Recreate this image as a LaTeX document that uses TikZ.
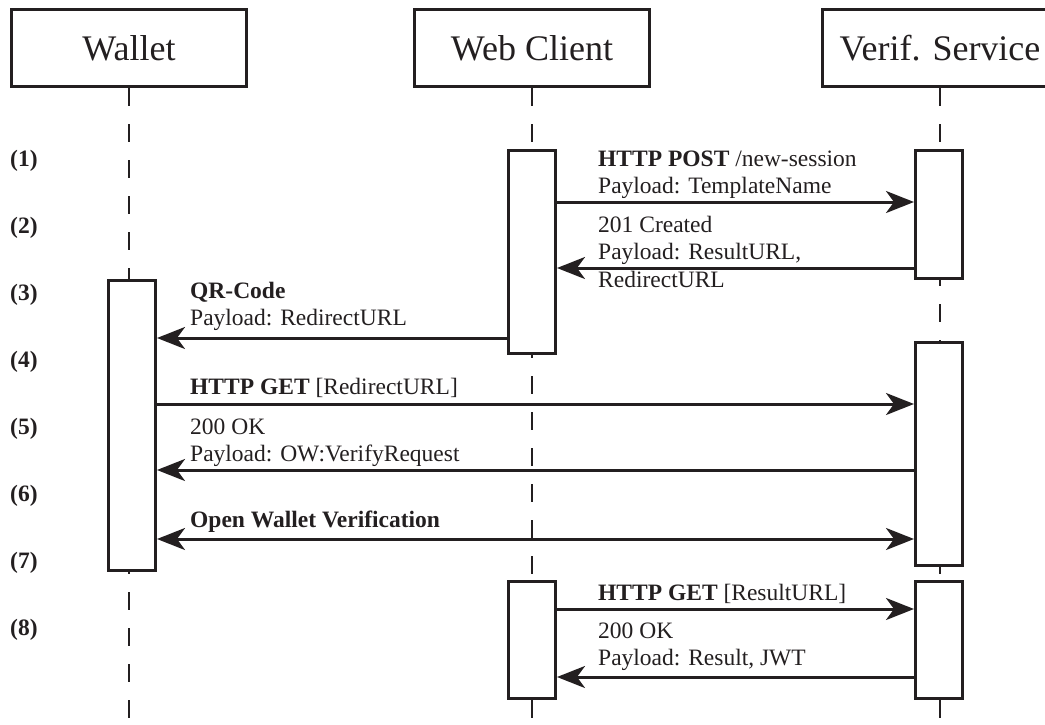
\documentclass[tikz,border=0pt]{standalone}
\usepackage{fontspec}
\setmainfont{Liberation Serif}
\usetikzlibrary{arrows.meta, calc}
\definecolor{InkBlack}{RGB}{35, 31, 32}
\newcommand{\hdfont}{\fontsize{36}{43}\selectfont}
\newcommand{\msgfont}{\fontsize{23.5}{27.5}\selectfont}

\begin{document}
\begin{tikzpicture}[
  x=1pt, y=-1pt, color=InkBlack,
  >={Stealth[length=28pt, width=22pt, inset=8pt]},
  actor/.style={draw, line width=3pt, minimum width=235pt,
                minimum height=77pt, inner sep=0pt, font=\hdfont},
  act/.style={draw, fill=white, line width=3pt, minimum width=47pt,
              inner sep=0pt, anchor=north},
  lifeline/.style={line width=1.5pt, dash pattern=on 18pt off 18pt},
  msg/.style={->, line width=3pt},
  lbl/.style={anchor=north west, align=left, inner sep=0pt, font=\msgfont},
  stepno/.style={anchor=base west, inner sep=0pt, font=\msgfont\bfseries}
]
  \useasboundingbox (0,0) rectangle (1045,724);
  \clip (0,0) rectangle (1045,724);

  % ---- participants ----
  \node[actor] (wallet) at (129,48) {Wallet};
  \node[actor] (webclient) at (532,48) {Web Client};
  \node[actor] (verif) at (940,48) {Verif. Service};
  \coordinate (bot) at (0,724);
  \draw[lifeline] (wallet.south) -- (wallet.south |- bot);
  \draw[lifeline] (webclient.south) -- (webclient.south |- bot);
  \draw[lifeline] (verif.south) -- (verif.south |- bot);

  % ---- activation boxes ----
  \node[act, minimum height=203pt] (webA) at (532,148.5) {};
  \node[act, minimum height=128pt] (verA) at (939,148.5) {};
  \node[act, minimum height=290pt] (walA) at (132,278.5) {};
  \node[act, minimum height=223pt] (verB) at (939,340.5) {};
  \node[act, minimum height=117pt] (webB) at (532,579.5) {};
  \node[act, minimum height=117pt] (verC) at (939,579.5) {};

  % ---- step numbers ----
  \foreach \k in {1,...,8}
    \node[stepno] (s\k) at (10,{166+67.1*(\k-1)}) {(\k)};

  % ---- messages ----
  \coordinate (m1) at (0,202);
  \coordinate (m2) at (0,268);
  \coordinate (m3) at (0,338);
  \coordinate (m4) at (0,404);
  \coordinate (m5) at (0,470);
  \coordinate (m6) at (0,539);
  \coordinate (m7) at (0,609);
  \coordinate (m8) at (0,677);
  \draw[msg] (webA.east |- m1) -- (verA.west |- m1);
  \draw[msg] (verA.west |- m2) -- (webA.east |- m2);
  \draw[msg] (webA.west |- m3) -- (walA.east |- m3);
  \draw[msg] (walA.east |- m4) -- (verB.west |- m4);
  \draw[msg] (verB.west |- m5) -- (walA.east |- m5);
  \draw[msg, <->] (walA.east |- m6) -- (verB.west |- m6);
  \draw[msg] (webB.east |- m7) -- (verC.west |- m7);
  \draw[msg] (verC.west |- m8) -- (webB.east |- m8);

  % ---- message labels ----
  \node[lbl] (l1) at (598,146.75) {\strut\textbf{HTTP POST} /new-session\\Payload: TemplateName};
  \node[lbl] (l2) at (598,212.75) {\strut 201 Created\\Payload: ResultURL,\\RedirectURL};
  \node[lbl] (l3) at (190,278.75) {\strut\textbf{QR-Code}\\Payload: RedirectURL};
  \node[lbl] (l4) at (190,374.75) {\strut\textbf{HTTP GET} [RedirectURL]};
  \node[lbl] (l5) at (190,414.75) {\strut 200 OK\\Payload: OW:VerifyRequest};
  \node[lbl] (l6) at (190,507.75) {\strut\textbf{Open Wallet Verification}};
  \node[lbl] (l7) at (598,580.75) {\strut\textbf{HTTP GET} [ResultURL]};
  \node[lbl] (l8) at (598,618.75) {\strut 200 OK\\Payload: Result, JWT};
\end{tikzpicture}
\end{document}
